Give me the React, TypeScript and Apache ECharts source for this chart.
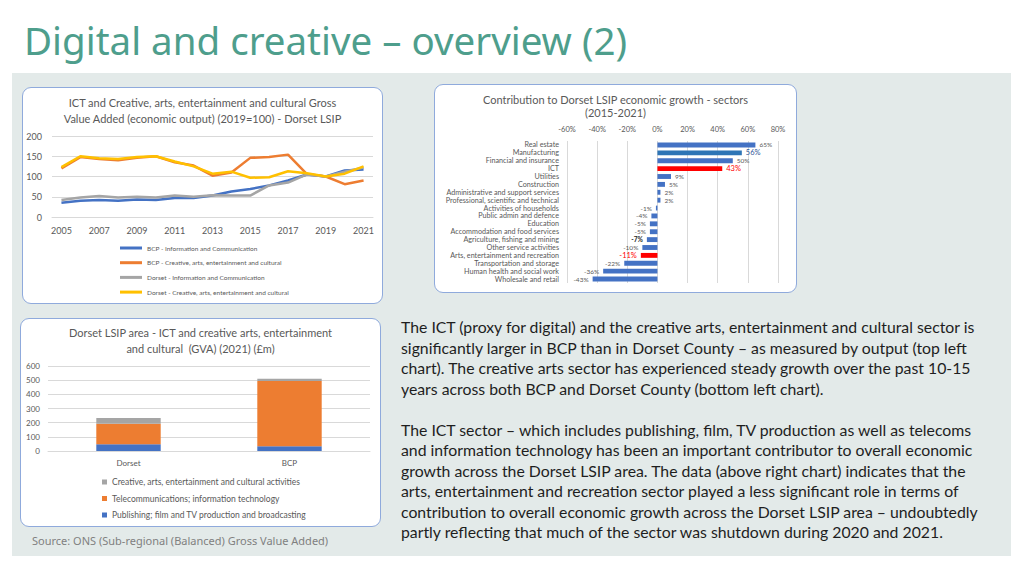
import { useEffect, useRef } from "react";
import * as echarts from "echarts";

// line chart (2019=100)
const years = ["2005", "2006", "2007", "2008", "2009", "2010", "2011", "2012", "2013", "2014", "2015", "2016", "2017", "2018", "2019", "2020", "2021"];
const bcpIct = [35, 40, 42, 40, 43, 42, 47, 47, 53, 63, 69, 78, 90, 105, 100, 115, 117];
const bcpCreative = [120, 148, 143, 140, 146, 150, 135, 127, 102, 110, 146, 148, 154, 106, 100, 81, 90];
const dorsetIct = [42, 48, 52, 48, 50, 48, 53, 50, 54, 53, 53, 78, 85, 105, 100, 112, 122];
const dorsetCreative = [123, 150, 145, 143, 148, 150, 137, 125, 107, 112, 97, 98, 113, 108, 100, 107, 125];
const lineNames = [
  "BCP - Information and Communication",
  "BCP - Creative, arts, entertainment and cultural",
  "Dorset - Information and Communication",
  "Dorset - Creative, arts, entertainment and cultural",
];

// contribution to growth, %
const sectors = [
  "Real estate", "Manufacturing", "Financial and insurance", "ICT", "Utilities", "Construction",
  "Administrative and support services", "Professional, scientific and technical", "Activities of households",
  "Public admin and defence", "Education", "Accommodation and food services", "Agriculture, fishing and mining",
  "Other service activities", "Arts, entertainment and recreation", "Transportation and storage",
  "Human health and social work", "Wholesale and retail",
];
const contribution = [65, 56, 50, 43, 9, 5, 2, 2, -1, -4, -5, -5, -7, -10, -11, -22, -36, -43];
const highlighted = ["ICT", "Arts, entertainment and recreation"];

// GVA 2021 £m
const areas = ["Dorset", "BCP"];
const publishing = [47, 33];
const telecoms = [145, 461];
const creativeArts = [41, 16];
const stackNames = [
  "Publishing; film and TV production and broadcasting",
  "Telecommunications; information technology",
  "Creative, arts, entertainment and cultural activities",
];

const FONT = "Lato";
const GREY = "#595959";

function EChart({ option, style }: { option: any; style: React.CSSProperties }) {
  const ref = useRef<HTMLDivElement>(null);
  useEffect(() => {
    if (!ref.current) return;
    const chart = echarts.init(ref.current, undefined, { renderer: "svg" });
    chart.setOption(option);
    return () => chart.dispose();
  }, [option]);
  return <div ref={ref} style={{ position: "absolute", ...style }} />;
}

// one legend per row so nothing wraps into columns
const lineLegends = lineNames.map((name, i) => ({
  left: 98,
  top: 156 + i * 14.7,
  padding: 0,
  itemWidth: 22,
  itemHeight: 3,
  icon: "rect",
  textStyle: { fontSize: 6.5, color: GREY, lineHeight: 10, fontFamily: FONT },
  data: [name],
}));

const lineOption = {
  animation: false,
  textStyle: { fontFamily: FONT },
  title: {
    text: "ICT and Creative, arts, entertainment and cultural Gross\nValue Added (economic output) (2019=100) - Dorset LSIP",
    left: "center",
    top: 7,
    padding: 0,
    textStyle: { fontSize: 11, fontWeight: "normal", color: GREY, lineHeight: 16, fontFamily: FONT },
  },
  grid: { left: 30, right: 10, top: 49, bottom: 87 },
  legend: lineLegends,
  xAxis: {
    type: "category",
    data: years,
    boundaryGap: true,
    axisLine: { lineStyle: { color: "#D9D9D9" } },
    axisTick: { show: false },
    axisLabel: { interval: 1, fontSize: 9, color: GREY, margin: 9 },
  },
  yAxis: {
    type: "value",
    min: 0,
    max: 200,
    interval: 50,
    axisLine: { show: false },
    axisTick: { show: false },
    axisLabel: { fontSize: 9, color: GREY, margin: 10 },
    splitLine: { lineStyle: { color: "#D9D9D9" } },
  },
  series: [
    { name: lineNames[0], data: bcpIct, color: "#4472C4" },
    { name: lineNames[1], data: bcpCreative, color: "#ED7D31" },
    { name: lineNames[2], data: dorsetIct, color: "#A5A5A5" },
    { name: lineNames[3], data: dorsetCreative, color: "#FFC000" },
  ].map((s) => ({ ...s, type: "line", symbol: "none", lineStyle: { width: 2.5 } })),
};

const barOption = {
  animation: false,
  textStyle: { fontFamily: FONT },
  title: {
    text: "Contribution to Dorset LSIP economic growth - sectors\n(2015-2021)",
    left: "center",
    top: 8.5,
    padding: 0,
    textStyle: { fontSize: 11, fontWeight: "normal", color: GREY, lineHeight: 13, fontFamily: FONT },
  },
  grid: { left: 133, right: 19, top: 57, bottom: 10 },
  xAxis: {
    type: "value",
    position: "top",
    min: -60,
    max: 80,
    interval: 20,
    axisLine: { show: false },
    axisTick: { show: false },
    axisLabel: { fontSize: 7.5, color: GREY, margin: 8, formatter: "{value}%" },
    splitLine: { lineStyle: { color: "#D9D9D9" } },
  },
  yAxis: {
    type: "category",
    inverse: true,
    data: sectors,
    axisLine: { show: false, onZero: false },
    axisTick: { show: false },
    axisLabel: { interval: 0, fontSize: 7.2, color: GREY, margin: 8, lineHeight: 8 },
  },
  series: [
    {
      type: "bar",
      barWidth: "62%",
      data: contribution.map((v, i) => {
        const red = highlighted.includes(sectors[i]);
        const manuf = sectors[i] === "Manufacturing";
        return {
          value: v,
          itemStyle: { color: red ? "#FF0000" : manuf ? "#2E75B6" : "#4472C4" },
          label: {
            position: v < 0 ? "left" : "right",
            color: red ? "#FF0000" : manuf ? "#2F5597" : v === -7 ? "#262626" : GREY,
            fontWeight: v === -7 ? "bold" : "normal",
            fontSize: red || manuf ? 7.5 : 6.5,
          },
        };
      }),
      label: { show: true, distance: 4, formatter: (p: any) => `${p.value}%` },
    },
  ],
};

const stackLegends = [stackNames[2], stackNames[1], stackNames[0]].map((name, i) => ({
  left: 82,
  top: 159 + i * 16.5,
  padding: 0,
  itemWidth: 5,
  itemHeight: 5,
  icon: "rect",
  textStyle: { fontSize: 8.5, color: GREY, lineHeight: 10, fontFamily: FONT },
  data: [name],
}));

const stackOption = {
  animation: false,
  textStyle: { fontFamily: FONT },
  title: {
    text: "Dorset LSIP area - ICT and creative arts, entertainment\nand cultural  (GVA) (2021) (£m)",
    left: "center",
    top: 6,
    padding: 0,
    textStyle: { fontSize: 11, fontWeight: "normal", color: GREY, lineHeight: 16, fontFamily: FONT },
  },
  grid: { left: 28, right: 11, top: 48, bottom: 76 },
  legend: stackLegends,
  xAxis: {
    type: "category",
    data: areas,
    axisLine: { lineStyle: { color: "#D9D9D9" } },
    axisTick: { show: false },
    axisLabel: { fontSize: 8, color: GREY, margin: 8 },
  },
  yAxis: {
    type: "value",
    min: 0,
    max: 600,
    interval: 100,
    axisLine: { show: false },
    axisTick: { show: false },
    axisLabel: { fontSize: 8, color: GREY, margin: 8 },
    splitLine: { lineStyle: { color: "#D9D9D9" } },
  },
  series: [
    { name: stackNames[0], data: publishing, color: "#4472C4" },
    { name: stackNames[1], data: telecoms, color: "#ED7D31" },
    { name: stackNames[2], data: creativeArts, color: "#A5A5A5" },
  ].map((s) => ({ ...s, type: "bar", stack: "gva", barWidth: "40%" })),
};

const para1 = [
  "The ICT (proxy for digital) and the creative arts, entertainment and cultural sector is",
  "significantly larger in BCP than in Dorset County \u2013 as measured by output (top left",
  "chart). The creative arts sector has experienced steady growth over the past 10-15",
  "years across both BCP and Dorset County (bottom left chart).",
];
const para2 = [
  "The ICT sector \u2013 which includes publishing, film, TV production as well as telecoms",
  "and information technology has been an important contributor to overall economic",
  "growth across the Dorset LSIP area. The data (above right chart) indicates that the",
  "arts, entertainment and recreation sector played a less significant role in terms of",
  "contribution to overall economic growth across the Dorset LSIP area \u2013 undoubtedly",
  "partly reflecting that much of the sector was shutdown during 2020 and 2021.",
];

const box: React.CSSProperties = {
  position: "absolute",
  background: "#fff",
  border: "1.5px solid #8FAADC",
  borderRadius: 9,
  boxSizing: "border-box",
};

export default function App() {
  return (
    <div style={{ position: "fixed", left: 0, top: 0, width: 1024, height: 575, background: "#fff", overflow: "hidden" }}>
      <div style={{ position: "absolute", left: 24, top: 15, fontFamily: "Noto Sans", fontSize: 38.5, color: "#4E9E8C", whiteSpace: "nowrap", lineHeight: "50px" }}>
        Digital and creative {"\u2013"} overview (2)
      </div>
      <div style={{ position: "absolute", left: 12, top: 73, width: 999, height: 483, background: "#E3EAE9" }} />
      <div style={{ ...box, left: 22, top: 87, width: 361, height: 217 }} />
      <div style={{ ...box, left: 434, top: 84, width: 363, height: 209 }} />
      <div style={{ ...box, left: 20, top: 318, width: 361, height: 209 }} />
      <EChart option={lineOption} style={{ left: 22, top: 87, width: 361, height: 217 }} />
      <EChart option={barOption} style={{ left: 434, top: 84, width: 363, height: 209 }} />
      <EChart option={stackOption} style={{ left: 20, top: 318, width: 361, height: 209 }} />
      <div style={{ position: "absolute", left: 32, top: 533, fontFamily: "Noto Sans", fontSize: 11, color: "#808080", whiteSpace: "nowrap" }}>
        Source: ONS (Sub-regional (Balanced) Gross Value Added)
      </div>
      <div style={{ position: "absolute", left: 401, top: 317, fontFamily: FONT, fontSize: 15.8, color: "#1E1E1E", lineHeight: "20.5px", whiteSpace: "nowrap" }}>
        {para1.map((l) => <div key={l}>{l}</div>)}
        <div style={{ height: 20.5 }} />
        {para2.map((l) => <div key={l}>{l}</div>)}
      </div>
    </div>
  );
}
